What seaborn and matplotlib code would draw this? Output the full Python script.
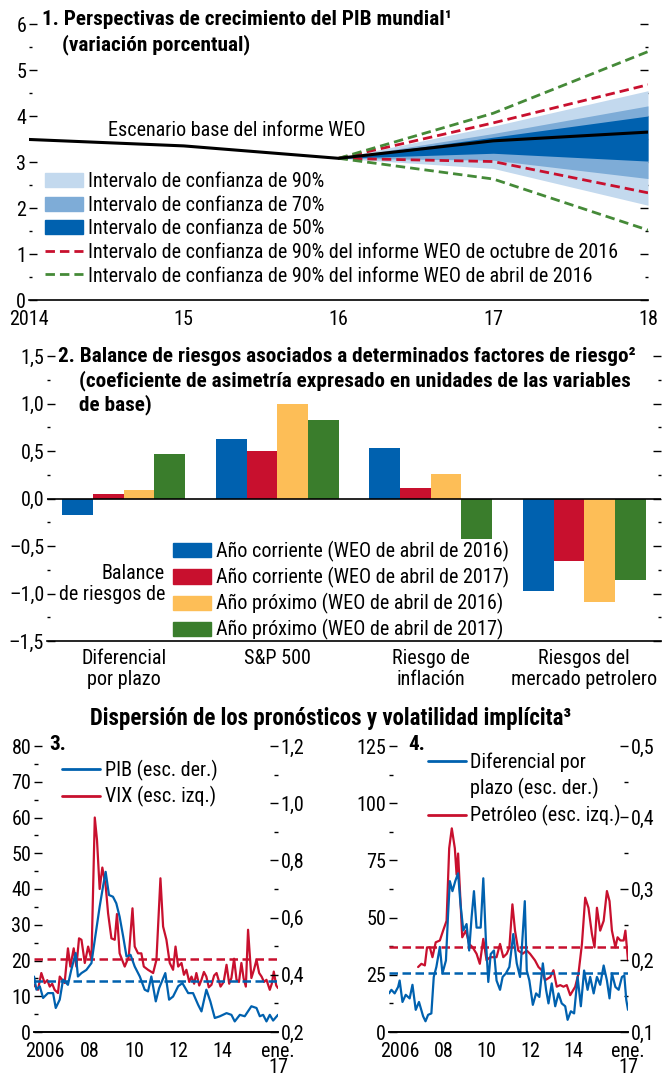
import numpy as np
import pandas as pd
import matplotlib
matplotlib.use("Agg")
import matplotlib.pyplot as plt
import seaborn as sns
from matplotlib import font_manager as fm
from matplotlib.patches import Patch
from matplotlib.lines import Line2D
from matplotlib.ticker import MultipleLocator, FixedLocator, FixedFormatter

# ---------------- data ----------------
# Panel 1
base_years = [2014, 2015, 2016, 2017, 2018]
base_vals = [3.49, 3.35, 3.08, 3.46, 3.65]
fan_years = [2016, 2017, 2018]
ci90_lo = [3.08, 2.86, 2.06]
ci90_hi = [3.08, 3.78, 4.55]
ci70_lo = [3.08, 3.04, 2.64]
ci70_hi = [3.08, 3.62, 4.22]
ci50_lo = [3.08, 3.19, 3.02]
ci50_hi = [3.08, 3.54, 4.00]
oct16_lo = [3.08, 3.01, 2.33]
oct16_hi = [3.08, 3.85, 4.68]
apr16_lo = [3.08, 2.63, 1.52]
apr16_hi = [3.08, 4.06, 5.40]
p1_xticklabels = ["2014", "15", "16", "17", "18"]
p1_legend = ["Intervalo de confianza de 90%", "Intervalo de confianza de 70%",
             "Intervalo de confianza de 50%",
             "Intervalo de confianza de 90% del informe WEO de octubre de 2016",
             "Intervalo de confianza de 90% del informe WEO de abril de 2016"]

# Panel 2
risk_factors = ["Diferencial\npor plazo", "S&P 500", "Riesgo de\ninflación",
                "Riesgos del\nmercado petrolero"]
risk_series = ["Año corriente (WEO de abril de 2016)", "Año corriente (WEO de abril de 2017)",
               "Año próximo (WEO de abril de 2016)", "Año próximo (WEO de abril de 2017)"]
cur_apr16 = [-0.17, 0.63, 0.53, -0.97]
cur_apr17 = [0.05, 0.50, 0.11, -0.66]
next_apr16 = [0.09, 1.00, 0.26, -1.09]
next_apr17 = [0.47, 0.83, -0.43, -0.86]
p2_yticklabels = ["–1,5", "–1,0", "–0,5", "0,0", "0,5", "1,0", "1,5"]

# Panel 3
vix_t = [2006.00, 2006.18, 2006.33, 2006.48, 2006.60, 2006.71, 2006.82, 2006.93, 2007.08, 2007.16,
         2007.38, 2007.53, 2007.64, 2007.79, 2007.91, 2008.03, 2008.14, 2008.29, 2008.44, 2008.59,
         2008.74, 2008.84, 2008.96, 2009.08, 2009.23, 2009.34, 2009.49, 2009.64, 2009.74, 2009.86,
         2010.09, 2010.27, 2010.44, 2010.54, 2010.69, 2010.84, 2010.95, 2011.14, 2011.37, 2011.52,
         2011.70, 2011.82, 2011.97, 2012.12, 2012.27, 2012.38, 2012.50, 2012.65, 2012.76, 2012.87,
         2013.00, 2013.10, 2013.22, 2013.32, 2013.45, 2013.55, 2013.66, 2013.77, 2013.88, 2014.00,
         2014.12, 2014.23, 2014.41, 2014.55, 2014.68, 2014.80, 2014.90, 2015.02, 2015.13, 2015.24,
         2015.35, 2015.45, 2015.55, 2015.65, 2015.80, 2015.92, 2016.03, 2016.15, 2016.26, 2016.37,
         2016.48, 2016.63, 2016.72, 2016.81, 2016.92, 2017.00]
vix_v = [13.2, 11.8, 16.5, 13.7, 14.5, 12.7, 13.5, 11.8, 10.9, 15.5,
         13.7, 23.4, 18.3, 23.4, 18.3, 26.2, 25.8, 19.3, 23.9, 20.2,
         60.0, 53.7, 40.0, 46.0, 41.0, 33.2, 26.2, 25.8, 33.0, 22.0,
         18.3, 21.0, 34.6, 23.9, 22.0, 22.0, 18.3, 17.4, 16.5, 20.2,
         43.0, 29.5, 25.8, 19.3, 17.4, 23.9, 18.3, 19.3, 16.0, 17.4,
         14.0, 15.5, 13.5, 16.5, 13.0, 14.6, 16.8, 15.5, 12.5, 13.2,
         15.8, 16.5, 12.7, 14.0, 18.8, 13.5, 15.1, 20.5, 14.6, 14.0,
         19.3, 15.0, 12.7, 28.6, 15.1, 17.5, 20.2, 16.5, 15.5, 14.0,
         14.6, 11.8, 13.5, 16.9, 13.0, 12.3]
pib_t = [2006.00, 2006.11, 2006.26, 2006.41, 2006.63, 2006.86, 2006.98, 2007.16, 2007.31, 2007.53,
         2007.68, 2007.88, 2007.98, 2008.14, 2008.36, 2008.59, 2008.74, 2008.96, 2009.11, 2009.23,
         2009.38, 2009.56, 2009.71, 2009.86, 2010.02, 2010.17, 2010.35, 2010.54, 2010.77, 2010.99,
         2011.14, 2011.29, 2011.49, 2011.64, 2011.92, 2012.09, 2012.27, 2012.50, 2012.69, 2012.95,
         2013.17, 2013.40, 2013.55, 2013.77, 2013.95, 2014.15, 2014.38, 2014.68, 2014.90, 2015.05,
         2015.28, 2015.50, 2015.80, 2016.03, 2016.18, 2016.33, 2016.48, 2016.63, 2016.78, 2017.00]
pib_v = [0.394, 0.348, 0.360, 0.319, 0.336, 0.336, 0.284, 0.313, 0.383, 0.365,
         0.417, 0.476, 0.394, 0.406, 0.417, 0.441, 0.522, 0.638, 0.708, 0.760,
         0.679, 0.673, 0.650, 0.603, 0.534, 0.464, 0.470, 0.429, 0.394, 0.348,
         0.342, 0.394, 0.307, 0.353, 0.406, 0.313, 0.324, 0.360, 0.371, 0.336,
         0.336, 0.295, 0.272, 0.348, 0.307, 0.249, 0.255, 0.266, 0.260, 0.237,
         0.260, 0.255, 0.290, 0.284, 0.255, 0.260, 0.237, 0.260, 0.240, 0.260]
vix_mean = 20.4
pib_mean = 0.377
p3_legend = ["PIB (esc. der.)", "VIX (esc. izq.)"]

# Panel 4
oil_t = [2007.34, 2007.49, 2007.65, 2007.75, 2007.88, 2008.00, 2008.15, 2008.34, 2008.49, 2008.65,
         2008.77, 2008.89, 2009.03, 2009.11, 2009.18, 2009.29, 2009.37, 2009.54, 2009.69, 2009.85,
         2010.03, 2010.18, 2010.34, 2010.49, 2010.65, 2010.83, 2010.95, 2011.11, 2011.26, 2011.42,
         2011.54, 2011.68, 2011.80, 2011.95, 2012.15, 2012.34, 2012.49, 2012.72, 2012.88, 2013.03,
         2013.18, 2013.42, 2013.57, 2013.72, 2013.88, 2014.03, 2014.18, 2014.34, 2014.57, 2014.72,
         2014.88, 2015.03, 2015.18, 2015.34, 2015.46, 2015.57, 2015.72, 2015.88, 2016.03, 2016.15,
         2016.26, 2016.42, 2016.52, 2016.65, 2016.80, 2016.88, 2017.00]
oil_v = [28.4, 29.8, 29.1, 37.0, 37.0, 32.7, 39.2, 40.0, 44.3, 48.6,
         80.3, 89.0, 80.3, 68.8, 78.0, 57.2, 41.4, 44.3, 38.5, 37.0,
         34.2, 29.8, 40.7, 31.3, 32.7, 32.7, 32.7, 38.5, 32.7, 34.2,
         37.0, 55.8, 44.3, 35.6, 34.2, 35.6, 34.2, 31.3, 28.4, 27.0,
         22.6, 24.0, 27.0, 19.8, 20.5, 19.8, 20.5, 16.1, 19.8, 25.5,
         38.5, 58.7, 54.3, 42.8, 37.0, 54.3, 44.3, 48.6, 61.6, 57.2,
         44.3, 37.0, 41.4, 40.0, 40.0, 44.3, 31.3]
spread_t = [2006.00, 2006.11, 2006.26, 2006.42, 2006.49, 2006.62, 2006.77, 2006.95, 2007.08, 2007.23,
            2007.38, 2007.57, 2007.68, 2007.80, 2007.95, 2008.06, 2008.18, 2008.34, 2008.46, 2008.62,
            2008.72, 2008.80, 2008.92, 2009.05, 2009.18, 2009.29, 2009.42, 2009.57, 2009.69, 2009.80,
            2009.91, 2010.03, 2010.22, 2010.34, 2010.46, 2010.57, 2010.68, 2010.83, 2010.95, 2011.11,
            2011.23, 2011.38, 2011.54, 2011.72, 2011.88, 2012.03, 2012.25, 2012.34, 2012.46, 2012.62,
            2012.77, 2012.92, 2013.08, 2013.23, 2013.34, 2013.49, 2013.65, 2013.80, 2013.95, 2014.11,
            2014.22, 2014.37, 2014.52, 2014.68, 2014.83, 2014.98, 2015.14, 2015.26, 2015.42, 2015.57,
            2015.72, 2015.88, 2016.03, 2016.15, 2016.26, 2016.42, 2016.57, 2016.72, 2016.83, 2016.92,
            2017.00]
spread_v = [0.154, 0.159, 0.154, 0.163, 0.172, 0.142, 0.152, 0.147, 0.166, 0.131,
            0.142, 0.122, 0.115, 0.124, 0.126, 0.177, 0.191, 0.219, 0.182, 0.200,
            0.265, 0.311, 0.297, 0.311, 0.322, 0.279, 0.242, 0.251, 0.214, 0.260,
            0.297, 0.246, 0.246, 0.315, 0.228, 0.170, 0.209, 0.214, 0.172, 0.159,
            0.177, 0.182, 0.191, 0.237, 0.196, 0.177, 0.283, 0.186, 0.172, 0.138,
            0.154, 0.149, 0.196, 0.159, 0.140, 0.168, 0.136, 0.154, 0.140, 0.136,
            0.117, 0.129, 0.126, 0.177, 0.136, 0.186, 0.159, 0.177, 0.154, 0.177,
            0.166, 0.193, 0.172, 0.147, 0.182, 0.163, 0.159, 0.177, 0.179, 0.145,
            0.131]
oil_mean = 37.0
spread_mean = 0.182
p4_legend = ["Diferencial por", "plazo (esc. der.)", "Petróleo (esc. izq.)"]

year_labels = ["2006", "08", "10", "12", "14"]
year_label_pos = [2006.5, 2008.5, 2010.5, 2012.5, 2014.5]

# ---------------- style ----------------
sns.set_theme(style="white")
names = {f.name for f in fm.fontManager.ttflist}
FONT = "DejaVu Sans"
for cand in ["Liberation Sans Narrow", "Roboto Condensed", "Open Sans Condensed",
             "DejaVu Sans Condensed", "Liberation Sans"]:
    if cand in names:
        FONT = cand
        break
plt.rcParams["font.family"] = [FONT, "DejaVu Sans"]
plt.rcParams["axes.edgecolor"] = "black"
plt.rcParams["xtick.color"] = "black"
plt.rcParams["ytick.color"] = "black"
plt.rcParams["text.color"] = "black"
FS = 14.5
FSB = 15.3

BLUE = "#0061AF"
RED = "#C8102E"
YELLOW = "#FDBE57"
GREEN = "#3A7D2C"
GREEN_D = "#458A38"
C90 = "#C3D9EE"
C70 = "#7EACD7"
C50 = "#0061AF"
DASH = (0, (3.4, 1.8))

W, H = 662, 1078
fig = plt.figure(figsize=(W / 100, H / 100), dpi=100)


def rect(x0, y0, x1, y1):
    return [x0 / W, 1 - y1 / H, (x1 - x0) / W, (y1 - y0) / H]


def ftxt(x, y, s, **kw):
    kw.setdefault("fontsize", FS)
    fig.text(x / W, 1 - y / H, s, **kw)


def clean(ax, keep_bottom=True):
    for s in ["top", "right", "left"]:
        ax.spines[s].set_visible(False)
    ax.spines["bottom"].set_visible(keep_bottom)
    ax.spines["bottom"].set_linewidth(1.2)
    ax.grid(False)
    ax.set_facecolor("none")
    ax.set_xlabel("")
    ax.set_ylabel("")


# ---------------- Panel 1 ----------------
ax1 = fig.add_axes(rect(29, 24, 648, 300))
ax1.fill_between(fan_years, ci90_lo, ci90_hi, color=C90, lw=0)
ax1.fill_between(fan_years, ci70_lo, ci70_hi, color=C70, lw=0)
ax1.fill_between(fan_years, ci50_lo, ci50_hi, color=C50, lw=0)
for lo, hi, c in [(oct16_lo, oct16_hi, RED), (apr16_lo, apr16_hi, GREEN_D)]:
    for arr in (lo, hi):
        sns.lineplot(x=fan_years, y=arr, ax=ax1, color=c, lw=2.0, linestyle=DASH)
sns.lineplot(x=base_years, y=base_vals, ax=ax1, color="black", lw=2.2)
ax1.set_xlim(2014, 2018)
ax1.set_ylim(0, 6)
clean(ax1)
ax1.set_xticks(base_years, p1_xticklabels)
ax1.yaxis.set_major_locator(MultipleLocator(1))
ax1.yaxis.set_minor_locator(MultipleLocator(0.5))
ax1.tick_params(axis="x", direction="in", length=7, width=1.2, labelsize=FS, pad=7)
ax1.tick_params(axis="y", which="major", direction="in", length=6, width=1, left=True, right=True,
                labelsize=FS, pad=2)
ax1.tick_params(axis="y", which="minor", direction="in", length=2, width=1, left=True, right=True)
h1 = [Patch(color=C90), Patch(color=C70), Patch(color=C50),
      Line2D([], [], color=RED, lw=2.0, linestyle=DASH),
      Line2D([], [], color=GREEN_D, lw=2.0, linestyle=DASH)]
ax1.legend(h1, p1_legend, loc="upper left", bbox_to_anchor=(45 / W, 1 - 172 / H),
           bbox_transform=fig.transFigure, frameon=False, fontsize=FS, handlelength=1.9,
           handleheight=0.7, handletextpad=0.25, labelspacing=0.23, borderpad=0, borderaxespad=0)
ftxt(42, 19, "1. Perspectivas de crecimiento del PIB mundial¹", weight="bold", va="center",
     fontsize=FSB)
ftxt(62, 45, "(variación porcentual)", weight="bold", va="center", fontsize=FSB)
ftxt(237, 131, "Escenario base del informe WEO", ha="center", va="center")

# ---------------- Panel 2 ----------------
df2 = pd.DataFrame({
    "factor": risk_factors * 4,
    "serie": sum([[s] * 4 for s in risk_series], []),
    "valor": cur_apr16 + cur_apr17 + next_apr16 + next_apr17,
})
ax2 = fig.add_axes(rect(47, 356, 661, 641))
sns.barplot(data=df2, x="factor", y="valor", hue="serie", hue_order=risk_series,
            order=risk_factors, palette=[BLUE, RED, YELLOW, GREEN], width=0.8,
            saturation=1, legend=False, ax=ax2, linewidth=0)
ax2.axhline(0, color="black", lw=1.2)
ax2.set_xlim(-0.5, 3.5)
ax2.set_ylim(-1.5, 1.5)
clean(ax2)
ax2.set_yticks(np.arange(-1.5, 1.51, 0.5), p2_yticklabels)
ax2.yaxis.set_minor_locator(MultipleLocator(0.25))
ax2.set_xticks(range(4), risk_factors)
ax2.xaxis.set_minor_locator(FixedLocator([0.5, 1.5, 2.5]))
ax2.tick_params(axis="x", which="major", length=0, labelsize=FS, pad=6)
ax2.tick_params(axis="x", which="minor", direction="in", length=7, width=1)
ax2.tick_params(axis="y", which="major", direction="in", length=6, width=1, left=True, right=True,
                labelsize=FS, pad=2)
ax2.tick_params(axis="y", which="minor", direction="in", length=2, width=1, left=True, right=True)
for lab in ax2.get_xticklabels():
    lab.set_linespacing(1.1)
h2 = [Patch(color=c) for c in [BLUE, RED, YELLOW, GREEN]]
ax2.legend(h2, risk_series, loc="upper left", bbox_to_anchor=(173 / W, 1 - 541 / H),
           bbox_transform=fig.transFigure, frameon=False, fontsize=FS, handlelength=1.9,
           handleheight=0.7, handletextpad=0.25, labelspacing=0.25, borderpad=0, borderaxespad=0)
ftxt(165, 584, "Balance\nde riesgos de", ha="right", va="center", linespacing=1.15)
ftxt(58, 356, "2. Balance de riesgos asociados a determinados factores de riesgo²",
     weight="bold", va="center", fontsize=FSB)
ftxt(79, 381, "(coeficiente de asimetría expresado en unidades de las variables",
     weight="bold", va="center", fontsize=FSB)
ftxt(79, 405, "de base)", weight="bold", va="center", fontsize=FSB)

# ---------------- Panels 3 & 4 ----------------
ftxt(331, 718, "Dispersión de los pronósticos y volatilidad implícita³", weight="bold",
     ha="center", va="center", fontsize=16.5)


def ts_panel(box, lt, lv, rt, rv, lmean, rmean, lylim, lmaj, rylim, rmaj, rlabels, llabels):
    ax = fig.add_axes(box)
    axr = ax.twinx()
    sns.lineplot(x=lt, y=lv, ax=ax, color=RED, lw=1.6)
    ax.axhline(lmean, color=RED, lw=1.8, linestyle=DASH)
    sns.lineplot(x=rt, y=rv, ax=axr, color=BLUE, lw=1.6)
    axr.axhline(rmean, color=BLUE, lw=1.8, linestyle=DASH)
    for a in (ax, axr):
        a.set_xlim(2006, 2017)
        clean(a)
    ax.set_ylim(*lylim)
    axr.set_ylim(*rylim)
    ax.set_yticks(np.arange(lylim[0], lylim[1] + 1e-9, lmaj), llabels)
    ax.yaxis.set_minor_locator(MultipleLocator(lmaj / 2))
    axr.set_yticks(np.arange(rylim[0], rylim[1] + 1e-9, rmaj), rlabels)
    axr.yaxis.set_minor_locator(MultipleLocator(rmaj / 2))
    ax.tick_params(axis="y", which="major", direction="in", length=6, width=1, labelsize=FS, pad=2)
    ax.tick_params(axis="y", which="minor", direction="in", length=3, width=1)
    axr.tick_params(axis="y", which="major", direction="in", length=6, width=1, labelsize=FS,
                    pad=2, left=False, right=True, labelright=True, labelleft=False)
    axr.tick_params(axis="y", which="minor", direction="in", length=3, width=1, left=False,
                    right=True)
    ax.set_xticks(list(range(2006, 2018)), [""] * 11 + ["ene.\n17"])
    ax.xaxis.set_minor_locator(FixedLocator(year_label_pos))
    ax.xaxis.set_minor_formatter(FixedFormatter(year_labels))
    ax.tick_params(axis="x", which="major", direction="in", length=6, width=1.2, labelsize=FS,
                   pad=7.5)
    ax.tick_params(axis="x", which="minor", length=0, labelsize=FS, pad=7.5)
    for lab in ax.get_xticklabels():
        lab.set_linespacing(0.74)
    axr.tick_params(axis="x", bottom=False, labelbottom=False)
    return ax, axr


ax3, ax3r = ts_panel(rect(34, 746, 278, 1032), vix_t, vix_v, pib_t, pib_v, vix_mean, pib_mean,
                     (0, 80), 10, (0.2, 1.2), 0.2,
                     ["0,2", "0,4", "0,6", "0,8", "1,0", "1,2"],
                     ["0", "10", "20", "30", "40", "50", "60", "70", "80"])
ax4, ax4r = ts_panel(rect(389, 746, 628, 1032), oil_t, oil_v, spread_t, spread_v, oil_mean,
                     spread_mean, (0, 125), 25, (0.1, 0.5), 0.1,
                     ["0,1", "0,2", "0,3", "0,4", "0,5"],
                     ["0", "25", "50", "75", "100", "125"])
ftxt(49, 745, "3.", weight="bold", va="center", fontsize=FSB)
ftxt(408, 745, "4.", weight="bold", va="center", fontsize=FSB)

h3 = [Line2D([], [], color=BLUE, lw=2.0), Line2D([], [], color=RED, lw=2.0)]
ax3r.legend(h3, p3_legend, loc="upper left", bbox_to_anchor=(62 / W, 1 - 760 / H),
            bbox_transform=fig.transFigure, frameon=False, fontsize=FS, handlelength=1.9,
            handletextpad=0.25, labelspacing=0.26, borderpad=0, borderaxespad=0)
h4 = [Line2D([], [], color=BLUE, lw=2.0), Line2D([], [], color="none"),
      Line2D([], [], color=RED, lw=2.0)]
ax4r.legend(h4, p4_legend, loc="upper left", bbox_to_anchor=(428 / W, 1 - 753 / H),
            bbox_transform=fig.transFigure, frameon=False, fontsize=FS, handlelength=1.9,
            handletextpad=0.2, labelspacing=0.29, borderpad=0, borderaxespad=0)

fig.savefig("out.png", dpi=100)
